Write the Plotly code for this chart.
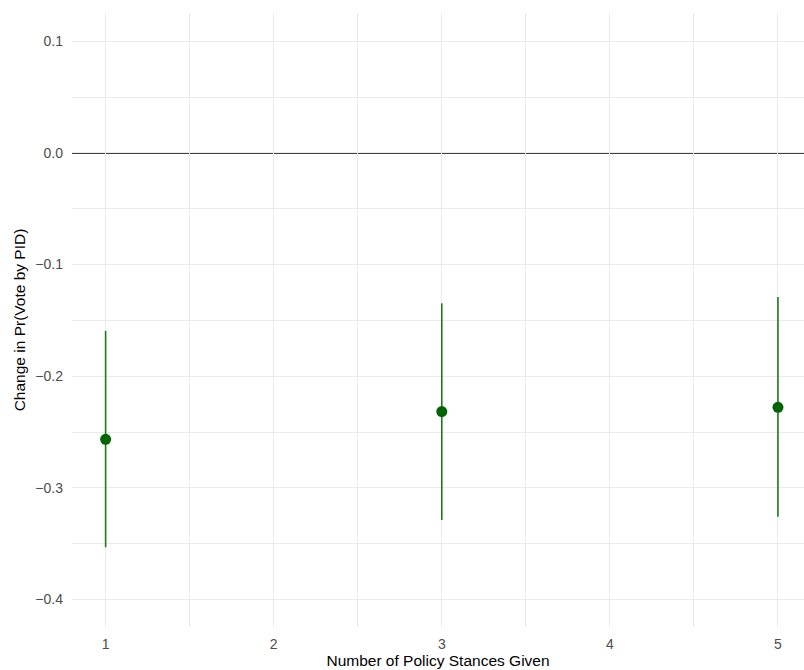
import plotly.graph_objects as go

# Data
stances = [1, 3, 5]
estimate = [-0.2566, -0.2317, -0.2279]
lower = [-0.3533, -0.3289, -0.3259]
upper = [-0.1595, -0.1347, -0.1290]

x_ticks = [1, 2, 3, 4, 5]
y_ticks = [-0.4, -0.3, -0.2, -0.1, 0.0, 0.1]
y_tick_labels = ["\u22120.4", "\u22120.3", "\u22120.2", "\u22120.1", "0.0", "0.1"]

err_plus = [u - e for u, e in zip(upper, estimate)]
err_minus = [e - l for e, l in zip(estimate, lower)]

fig = go.Figure()
fig.add_hline(y=0, line=dict(color="black", width=1.6), layer="below")
fig.add_trace(go.Scatter(
    x=stances, y=estimate, mode="markers",
    marker=dict(color="#006400", size=11),
    error_y=dict(type="data", symmetric=False, array=err_plus, arrayminus=err_minus,
                 color="#1a7a1a", thickness=1.6, width=0),
    showlegend=False,
))

font_family = "Liberation Sans, Arial, Helvetica, sans-serif"
fig.update_layout(
    width=804, height=670,
    margin=dict(l=72, r=0, t=13, b=43),
    paper_bgcolor="white", plot_bgcolor="white",
    font=dict(family=font_family),
    xaxis=dict(
        range=[0.8, 5.155], tickvals=x_ticks, ticktext=[str(t) for t in x_ticks],
        showgrid=True, gridcolor="#EBEBEB", gridwidth=1.1,
        minor=dict(tickvals=[1.5, 2.5, 3.5, 4.5], showgrid=True, gridcolor="#EBEBEB", gridwidth=0.6),
        zeroline=False, showline=False, ticks="", ticklabelstandoff=7,
        tickfont=dict(size=14, color="#4D4D4D"),
        title=dict(text="Number of Policy Stances Given", font=dict(size=15.5, color="black"), standoff=3),
    ),
    yaxis=dict(
        range=[-0.4247, 0.1254], tickvals=y_ticks, ticktext=y_tick_labels,
        showgrid=True, gridcolor="#EBEBEB", gridwidth=1.1,
        minor=dict(tickvals=[-0.35, -0.25, -0.15, -0.05, 0.05], showgrid=True, gridcolor="#EBEBEB", gridwidth=0.6),
        zeroline=False, showline=False, ticks="", ticklabelstandoff=8,
        tickfont=dict(size=14, color="#4D4D4D"),
        title=dict(text="Change in Pr(Vote by PID)", font=dict(size=15.5, color="black"), standoff=5),
    ),
)

fig.write_html(
    "out.html",
    config={"displayModeBar": False},
    post_script="document.body.style.margin='0';document.body.style.overflow='hidden';",
)
